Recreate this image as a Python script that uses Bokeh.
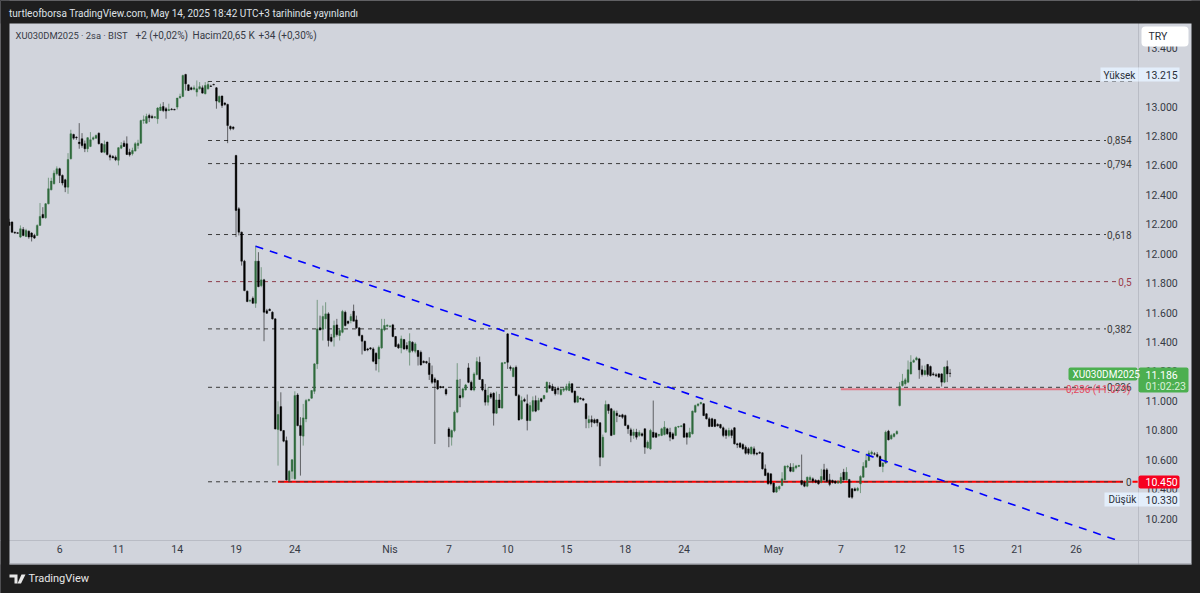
from bokeh.embed import file_html
from bokeh.models import (BoxAnnotation, ColumnDataSource, FixedTicker, Label,
                          PolyAnnotation, Range1d)
from bokeh.plotting import figure
from bokeh.resources import INLINE

opens = [
12215,12215,12146,12142,12113,12165,12117,12153,12140,12124,
12124,12192,12267,12244,12339,12434,12475,12543,12577,12532,
12502,12452,12645,12810,12792,12758,12781,12747,12713,12729,
12778,12785,12819,12747,12690,12758,12667,12660,12656,12634,
12717,12751,12747,12690,12679,12697,12735,12751,12905,12887,
12939,12932,12925,12917,12973,13000,12985,12973,12982,12980,
12996,13059,13068,13218,13147,13127,13118,13098,13120,13127,
13087,13120,13140,13150,13127,13030,13071,13023,13014,12864,
12860,12667,12305,12146,11949,11745,11678,11697,11663,11949,
11783,11822,11612,11622,11602,11557,10805,10961,10798,10730,
10458,10522,10470,11040,10832,10760,10877,11002,11018,11065,
11251,11496,11489,11557,11591,11432,11432,11516,11444,11466,
11602,11541,11545,11609,11550,11496,11444,11405,11353,11360,
11353,11323,11285,11360,11482,11507,11505,11516,11437,11382,
11360,11416,11376,11330,11398,11337,11342,11330,11269,11267,
11256,11179,11149,11138,11097,11095,11077,10809,10753,10798,
10923,11036,11025,11074,11224,11126,11074,11179,11262,11145,
11074,10991,11047,11052,10916,11006,10952,11256,11455,11228,
11165,11228,11036,10878,11009,10980,10866,10930,11002,10939,
11014,11014,11059,11104,11098,11082,11086,11043,11072,11075,
11070,11116,11066,10991,11018,11014,10980,10851,10873,10871,
10873,10851,10617,10787,10975,10946,10771,10916,10900,10905,
10900,10833,10803,10765,10787,10765,10776,10810,10681,10674,
10787,10780,10765,10765,10771,10810,10787,10776,10765,10822,
10826,10844,10780,10753,10776,10923,10968,10980,10980,10912,
10878,10878,10873,10840,10839,10817,10799,10765,10799,10817,
10708,10712,10703,10685,10674,10640,10674,10644,10650,10647,
10538,10508,10504,10441,10380,10402,10425,10463,10550,10549,
10520,10545,10555,10459,10447,10420,10463,10470,10459,10459,
10447,10531,10531,10463,10459,10454,10441,10441,10515,10463,
10465,10402,10402,10392,10436,10481,10549,10595,10640,10640,
10635,10622,10554,10577,10794,10742,10758,10776,10968,11104,
11116,11127,11183,11263,11279,11285,11211,11179,11247,11233,
11183,11177,11183,11183,11127,11233,11188]
highs = [
12237,12220,12150,12146,12192,12181,12169,12158,12146,12135,
12199,12344,12316,12344,12516,12516,12566,12593,12584,12538,
12509,12683,12842,12815,12797,12887,12819,12769,12792,12826,
12797,12810,12824,12751,12769,12762,12679,12670,12667,12724,
12758,12769,12797,12713,12720,12758,12774,12910,12939,12951,
12951,12944,12935,12996,13019,13030,12996,13019,12990,12985,
13059,13087,13216,13222,13150,13135,13143,13177,13166,13143,
13166,13172,13148,13155,13132,13075,13075,13030,13019,12871,
12866,12672,12316,12150,11958,11750,11690,11709,12055,12010,
11908,11829,11625,11628,11609,11562,10997,11058,10802,10757,
10530,10605,11065,11052,10889,10979,11013,11015,11074,11256,
11686,11579,11647,11670,11602,11455,11545,11557,11489,11618,
11613,11545,11591,11654,11579,11500,11450,11410,11360,11365,
11364,11330,11376,11557,11557,11520,11515,11523,11441,11391,
11443,11421,11398,11459,11405,11398,11346,11342,11275,11272,
11296,11240,11160,11142,11102,11100,11088,10821,10805,10934,
11256,11149,11090,11115,11256,11138,11194,11296,11301,11149,
11115,11092,11058,11058,11063,11047,11262,11265,11460,11240,
11228,11240,11047,11030,11021,11043,10991,11030,11036,11021,
11020,11041,11131,11127,11116,11093,11098,11086,11093,11116,
11134,11120,11070,11036,11025,11020,10984,10900,10900,10880,
10878,10855,10771,11002,10980,10952,10939,10934,10907,10912,
10907,10839,10817,10810,10810,10800,10785,10814,10731,10810,
11002,10787,10775,10817,10862,10817,10817,10787,10826,10830,
10835,10848,10787,10817,10934,10975,10985,10993,10984,10916,
10889,10885,10878,10848,10844,10826,10810,10817,10810,10821,
10715,10719,10712,10697,10685,10690,10690,10650,10657,10651,
10568,10515,10509,10445,10420,10425,10515,10561,10565,10576,
10576,10565,10565,10635,10459,10486,10492,10480,10468,10465,
10538,10572,10543,10504,10465,10460,10460,10509,10538,10549,
10470,10408,10412,10415,10495,10583,10640,10662,10662,10651,
10651,10629,10583,10798,10803,10776,10780,10800,11127,11183,
11156,11274,11310,11285,11301,11292,11240,11240,11251,11240,
11195,11188,11188,11188,11233,11274,11217]
lows = [
12192,12140,12135,12135,12106,12118,12113,12101,12083,12100,
12120,12192,12240,12237,12335,12430,12470,12532,12480,12464,
12418,12407,12640,12774,12774,12713,12720,12690,12690,12724,
12770,12780,12742,12685,12683,12667,12634,12650,12629,12600,
12710,12725,12670,12660,12667,12695,12713,12747,12883,12883,
12894,12917,12918,12883,12969,12962,12917,12969,12975,12975,
12980,13053,13064,13109,13105,13110,13110,13068,13115,13087,
13082,13115,13133,13145,12985,13023,12991,13005,12751,12838,
12840,12113,12124,11919,11745,11670,11670,11659,11632,11772,
11772,11405,11590,11610,11552,10805,10560,10793,10719,10458,
10454,10470,10463,10827,10492,10696,10855,10995,11013,11047,
11217,11478,11410,11489,11369,11398,11369,11437,11410,11459,
11505,11520,11527,11541,11489,11437,11315,11337,11337,11345,
11262,11206,11194,11353,11473,11500,11498,11432,11365,11353,
11323,11346,11342,11240,11330,11323,11240,11240,11255,11250,
11142,11115,10707,11074,11085,11085,11036,10685,10696,10787,
10916,10957,11015,11070,11120,11070,11065,11172,11145,11065,
10968,10968,11013,10832,10911,10952,10945,11250,11217,11205,
11160,11031,10866,10871,10991,10799,10862,10923,10923,10934,
10990,11010,11054,11082,11066,11036,11043,11036,11060,11066,
11066,11052,10984,10987,11008,10998,10814,10814,10821,10845,
10826,10556,10613,10783,10912,10760,10767,10855,10890,10878,
10828,10776,10719,10742,10737,10755,10755,10640,10674,10667,
10749,10747,10755,10760,10765,10769,10726,10737,10760,10815,
10820,10749,10703,10749,10771,10919,10960,10975,10896,10873,
10821,10822,10821,10825,10810,10753,10742,10753,10746,10703,
10679,10679,10667,10635,10633,10635,10629,10630,10640,10533,
10488,10431,10425,10375,10375,10390,10420,10459,10540,10515,
10515,10535,10550,10425,10413,10413,10455,10440,10440,10430,
10440,10458,10447,10420,10438,10435,10435,10436,10458,10458,
10341,10334,10385,10385,10373,10477,10545,10590,10628,10630,
10613,10554,10515,10572,10731,10735,10750,10770,10962,11097,
11104,11120,11179,11258,11274,11150,11165,11172,11165,11165,
11170,11161,11156,11097,11120,11127,11161]
closes = [
12192,12146,12140,12138,12169,12124,12158,12113,12113,12106,
12192,12253,12244,12339,12441,12493,12547,12577,12532,12480,
12452,12640,12815,12785,12788,12747,12735,12713,12788,12774,
12788,12803,12747,12690,12742,12674,12656,12650,12638,12720,
12735,12729,12674,12672,12701,12747,12751,12905,12910,12932,
12923,12923,12930,12989,12996,12973,12969,12980,12978,12976,
13057,13068,13211,13154,13109,13116,13127,13120,13135,13091,
13143,13150,13136,13146,13037,13068,13007,13014,12871,12849,
12850,12294,12146,11949,11749,11675,11681,11663,11949,11776,
11822,11602,11595,11613,11557,10809,10907,10798,10726,10463,
10522,10599,11036,10832,10764,10884,11002,11009,11070,11251,
11489,11482,11573,11591,11410,11405,11512,11450,11478,11607,
11512,11527,11573,11541,11496,11444,11405,11342,11346,11353,
11269,11251,11364,11489,11512,11514,11509,11437,11369,11360,
11421,11353,11353,11405,11342,11387,11301,11244,11260,11258,
11179,11126,11126,11081,11090,11093,11047,10757,10798,10923,
11142,11020,11081,11108,11126,11074,11183,11267,11145,11074,
10991,11036,11025,10916,11006,10952,11258,11260,11262,11220,
11224,11036,10870,11002,10998,10866,10968,11002,10930,11002,
10996,11036,11127,11086,11070,11048,11075,11077,11082,11098,
11116,11059,10991,11030,11012,11005,10878,10873,10855,10851,
10851,10617,10753,10975,10934,10765,10930,10900,10894,10889,
10833,10810,10765,10787,10753,10785,10765,10685,10719,10799,
10753,10753,10772,10810,10821,10776,10753,10742,10821,10826,
10830,10753,10753,10787,10930,10968,10978,10989,10900,10878,
10826,10826,10826,10830,10817,10765,10765,10799,10765,10708,
10701,10685,10674,10644,10644,10685,10640,10638,10644,10538,
10493,10436,10436,10380,10413,10418,10470,10556,10556,10522,
10549,10558,10561,10432,10420,10481,10479,10454,10447,10436,
10486,10463,10454,10432,10447,10441,10454,10481,10463,10515,
10345,10345,10390,10405,10486,10554,10595,10645,10651,10638,
10622,10554,10577,10787,10735,10765,10776,10792,11097,11134,
11143,11211,11263,11274,11292,11211,11179,11206,11179,11172,
11177,11170,11161,11127,11229,11183,11186]

fib_names = ["1", "0,854", "0,794", "0,618", "0,5", "0,382", "0,236", "0"]
fib_prices = [13170, 12769, 12612, 12130, 11810, 11489, 11092, 10450]
fib_colors = ["#3a3a3a", "#3a3a3a", "#3a3a3a", "#3a3a3a", "#8c3b48", "#3a3a3a", "#3a3a3a", "#3a3a3a"]
fib_bar_range = [71, 401]
red_support = 10450
red_support_bars = [96, 403]
pink_price = 11079
pink_bars = [297, 401]
trend_bars = [88, 395]
trend_prices = [12051, 10057]

price_ticks = [10200, 10400, 10600, 10800, 11000, 11200, 11400, 11600, 11800, 12000,
               12200, 12400, 12600, 12800, 13000, 13200, 13400]
price_tick_labels = ["10.200", "10.400", "10.600", "10.800", "11.000", "11.200", "11.400", "11.600", "11.800",
                     "12.000", "12.200", "12.400", "12.600", "12.800", "13.000", "13.200", "13.400"]
time_ticks = [18, 39, 60, 81, 102, 136, 157, 178, 199, 220, 241, 273, 297, 318, 339, 360, 381]
time_tick_labels = ["6", "11", "14", "19", "24", "Nis", "7", "10", "15", "18", "24", "May", "7", "12", "15", "21", "26"]

PANE = "#d1d4dc"
DARK = "#1e1e1e"
FONT = "Roboto"
W, H = 1200, 593

p = figure(width=W, height=H, output_backend="svg", toolbar_location=None,
           x_range=Range1d(-3.114, 425.44), y_range=Range1d(9690.9, 13720.3),
           y_axis_location="right", min_border=0)
p.background_fill_color = PANE
p.border_fill_color = DARK
p.outline_line_color = None
p.grid.visible = False
p.yaxis[0].fixed_location = 403.3
p.xaxis[0].fixed_location = 10051

for ax, ticks, labs in ((p.yaxis[0], price_ticks, price_tick_labels), (p.xaxis[0], time_ticks, time_tick_labels)):
    ax.ticker = FixedTicker(ticks=ticks)
    ax.major_label_overrides = dict(zip(ticks, labs))
    ax.major_tick_line_color = None
    ax.minor_tick_line_color = None
    ax.axis_line_color = "#b9bcc5"
    ax.major_label_text_color = "#363a45"
    ax.major_label_text_font = FONT
    ax.major_label_text_font_size = "10.5px"
p.xaxis[0].major_label_standoff = -4
p.yaxis[0].major_label_standoff = 1


def box(x0, y0, x1, y1, color, level="annotation", radius=0):
    p.add_layout(BoxAnnotation(left=x0, right=x1, top=H - y0, bottom=H - y1, left_units="screen",
                               right_units="screen", top_units="screen", bottom_units="screen",
                               fill_color=color, fill_alpha=1, line_color=None, level=level,
                               border_radius=radius, editable=False))


def text(s, x, y, color="#2a2e39", size=10.5, align="left", font=FONT):
    p.add_layout(Label(x=x, y=H - y, x_units="screen", y_units="screen", text=s, text_color=color,
                       text_font=font, text_font_size=f"{size}px", text_align=align, text_baseline="middle"))


# dark page frame around the chart
box(0, 0, 1200, 23, DARK)
box(0, 0, 9, 593, DARK)
box(1191, 0, 1200, 593, DARK)
box(0, 564, 1200, 593, DARK)
box(9, 563, 1191, 564, "#8f929a")

idx = list(range(len(opens)))
up = [c >= o for o, c in zip(opens, closes)]
src = ColumnDataSource(dict(x=idx, o=opens, h=highs, l=lows, c=closes,
                            top=[max(o, c) for o, c in zip(opens, closes)],
                            bot=[min(o, c) for o, c in zip(opens, closes)],
                            col=["#2f6b3d" if u else "#000000" for u in up]))

# fib levels
for price, col in zip(fib_prices, fib_colors):
    if price == red_support:
        p.line(red_support_bars, [red_support] * 2, line_color="#ff0000", line_width=2)
    p.line(fib_bar_range, [price] * 2, line_color=col, line_width=1, line_dash=[4, 4])
p.line(pink_bars, [pink_price] * 2, line_color="#e07a88", line_width=2)

p.segment("x", "h", "x", "l", source=src, line_color="col", line_width=1, line_alpha=0.55)
p.vbar("x", 0.62, "top", "bot", source=src, fill_color="col", line_color="col", line_width=0.4)

p.line(trend_bars, trend_prices, line_color="#0000ff", line_width=1.6, line_dash=[8, 7])

# fib captions
for name, price, col in zip(fib_names[1:], fib_prices[1:], ["#3a3a3a", "#3a3a3a", "#3a3a3a", "#9c3b4b", "#3a3a3a", "#3a3a3a", "#3a3a3a"]):
    sy = 106 + (13000 - price) * 0.14714
    w = 26 if len(name) > 3 else 15 if len(name) > 1 else 9
    box(1131.5 - w, sy - 5, 1132, sy + 5, PANE)
    text(name, 1131, sy, color=col, size=10, align="right")
text("0,236 (11.079)", 1130, 389, color="#e2495f", size=10, align="right")

# axis boxes
box(1100, 67, 1138, 81, "#e3eefb")
box(1138, 67, 1179, 81, "#e3eefb")
text("Yüksek", 1103, 74.5, size=10)
text("13.215", 1145, 74.5)
box(1104, 492, 1138, 506, "#e3eefb")
box(1138, 492, 1179, 506, "#e3eefb")
text("Düşük", 1108, 498.5, size=10)
text("10.330", 1145, 499)
box(1068, 367, 1137, 380, "#4caf50", radius=2)
box(1138, 367, 1188, 392, "#4caf50", radius=2)
text("XU030DM2025", 1072, 374, color="#ffffff", size=10)
text("11.186", 1145, 374, color="#ffffff")
text("01:02:23", 1145, 385.5, color="#d8f0d9")
box(1138, 475, 1179, 488, "#f7001f", radius=2)
text("10.450", 1145, 481.5, color="#ffffff")
box(1141, 26, 1188, 46, "#ffffff", radius=4)
text("TRY", 1148, 36)

# top texts
text("turtleofborsa TradingView.com, May 14, 2025 18:42 UTC+3 tarihinde yayınlandı", 8.5, 13, color="#dfe1e6", size=10)
text("XU030DM2025 · 2sa · BIST", 15, 35, color="#363a45", size=9.4)
text("+2 (+0,02%)", 135, 35, color="#363a45", size=10)
text("Hacim20,65 K", 192, 35, color="#363a45", size=10)
text("+34 (+0,30%)", 258, 35, color="#363a45", size=10)

# bottom strip
text("TradingView", 28, 578, color="#e8e8e8", size=11)
for xs, ys in (([9, 17, 17, 14, 14, 9], [574, 574, 583, 583, 577, 577]),
               ([21, 25, 20.5, 17, 21], [574, 574, 583, 583, 574])):
    p.add_layout(PolyAnnotation(xs=xs, ys=[H - y for y in ys], xs_units="screen", ys_units="screen",
                                fill_color="#e8e8e8", fill_alpha=1, line_color=None, editable=False))

html = file_html(p, INLINE).replace("<body>", f'<body style="background:{DARK};margin:0">')
open("out.html", "w").write(html)
